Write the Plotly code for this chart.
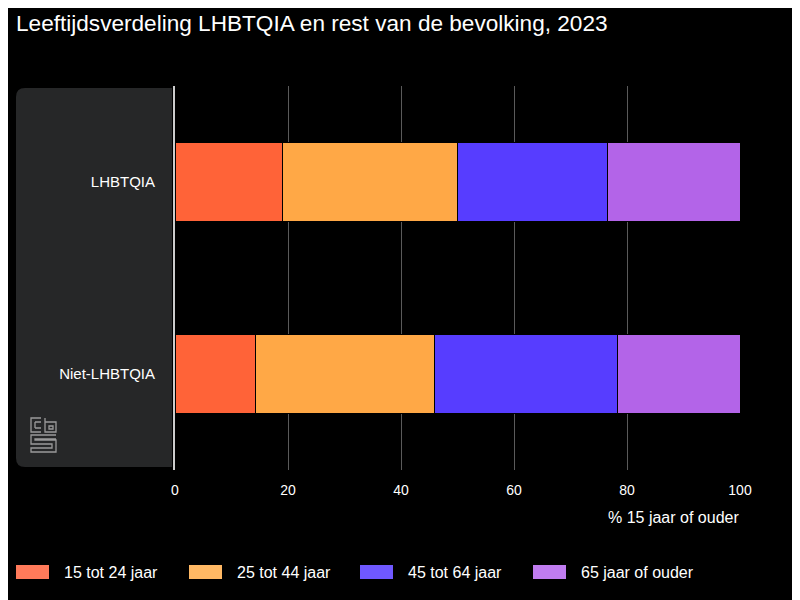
import plotly.graph_objects as go

categories = ["LHBTQIA", "Niet-LHBTQIA"]
series_names = ["15 tot 24 jaar", "25 tot 44 jaar", "45 tot 64 jaar", "65 jaar of ouder"]
values_15_24 = [19.1, 14.2]
values_25_44 = [30.9, 31.7]
values_45_64 = [26.5, 32.5]
values_65_plus = [23.5, 21.6]
x_ticks = [0, 20, 40, 60, 80, 100]

colors = ["#FF6338", "#FFA846", "#573DFF", "#B364E8"]
legend_colors = ["#FF7A5A", "#FFB864", "#6F58FF", "#C07CF0"]
series = [values_15_24, values_25_44, values_45_64, values_65_plus]

fig = go.Figure()
for name, vals, col in zip(series_names, series, colors):
    fig.add_trace(go.Bar(
        y=categories, x=vals, name=name, orientation="h",
        marker=dict(color=col, line=dict(color="#000000", width=1)),
        width=0.41, showlegend=False,
    ))

# page has an 8px body margin; work in reference-screen coordinates
OFF = 8
W, H = 800, 600
L, T = 175 - OFF, 86 - OFF
R = W - (740 - OFF)
B = H - (470 - OFF)
pw, ph = W - L - R, H - T - B

def px(x):
    return (x - OFF - L) / pw

def py(y):
    return (H - B - (y - OFF)) / ph

# rounded panel behind the category labels
x0, x1, y0, y1 = px(16), px(172), py(467), py(88)
rx, ry = 9 / pw, 9 / ph
panel = (f"M{x0+rx},{y0} L{x1},{y0} L{x1},{y1} L{x0+rx},{y1} "
         f"Q{x0},{y1} {x0},{y1-ry} L{x0},{y0+ry} Q{x0},{y0} {x0+rx},{y0} Z")
shapes = [dict(type="path", path=panel, xref="paper", yref="paper",
               fillcolor="#262728", line=dict(width=0), layer="below")]

# simple cbs logo outline
lx, ly = 31, 418
def P(x, y):
    return f"{px(lx + x)},{py(ly + y)}"
logo_paths = [
    f"M{P(10,0)} L{P(0,0)} L{P(0,14)} L{P(10,14)}",
    f"M{P(4,4)} L{P(10,4)} M{P(4,10)} L{P(10,10)} M{P(4,4)} L{P(4,10)}",
    f"M{P(14,0)} L{P(14,14)} L{P(25,14)} L{P(25,4)} L{P(14,4)}",
    f"M{P(18,8)} L{P(22,8)} L{P(22,11)} L{P(18,11)} Z",
    f"M{P(25,17)} L{P(0,17)} L{P(0,26)} L{P(21,26)} L{P(21,30)} L{P(0,30)} L{P(0,34)} L{P(25,34)} L{P(25,22)} L{P(4,22)} L{P(4,21)} L{P(25,21)}",
]
for p in logo_paths:
    shapes.append(dict(type="path", path=p, xref="paper", yref="paper",
                       line=dict(color="#9a9a9a", width=1.3)))

annotations = [
    dict(text="% 15 jaar of ouder", x=px(741), y=py(517), xref="paper", yref="paper",
         xanchor="right", yanchor="middle", showarrow=False,
         font=dict(size=16, color="#ffffff")),
]

# legend
leg_box_x = [16, 189, 360, 533]
for name, col, lxp in zip(series_names, legend_colors, leg_box_x):
    shapes.append(dict(type="rect", xref="paper", yref="paper",
                       x0=px(lxp), x1=px(lxp + 33), y0=py(579), y1=py(565),
                       fillcolor=col, line=dict(width=0)))
    annotations.append(dict(text=name, x=px(lxp + 46), y=py(572), xref="paper", yref="paper",
                            xanchor="left", yanchor="middle", showarrow=False,
                            font=dict(size=16, color="#ffffff")))

fig.update_layout(
    barmode="stack",
    width=W, height=H,
    margin=dict(l=L, r=R, t=T, b=B),
    paper_bgcolor="#000000",
    plot_bgcolor="#000000",
    font=dict(family="Liberation Sans, Arial, sans-serif", size=14, color="#ffffff"),
    title=dict(text="Leeftijdsverdeling LHBTQIA en rest van de bevolking, 2023",
               x=(16 - OFF) / W, xanchor="left", y=1 - (23 - OFF) / H, yanchor="middle",
               font=dict(size=22.6, color="#ffffff")),
    xaxis=dict(range=[0, 100], tickvals=x_ticks, showgrid=True, gridcolor="#5a5a5a",
               gridwidth=1, zeroline=False, showline=False, ticks="",
               ticklabelstandoff=10, tickfont=dict(size=14, color="#ffffff")),
    yaxis=dict(categoryorder="array", categoryarray=categories, autorange="reversed",
               showline=True, linecolor="#cccccc", linewidth=2, ticks="",
               ticklabelstandoff=15, tickfont=dict(size=15, color="#ffffff"),
               showgrid=False),
    shapes=shapes,
    annotations=annotations,
    showlegend=False,
)

fig.write_html("out.html")
